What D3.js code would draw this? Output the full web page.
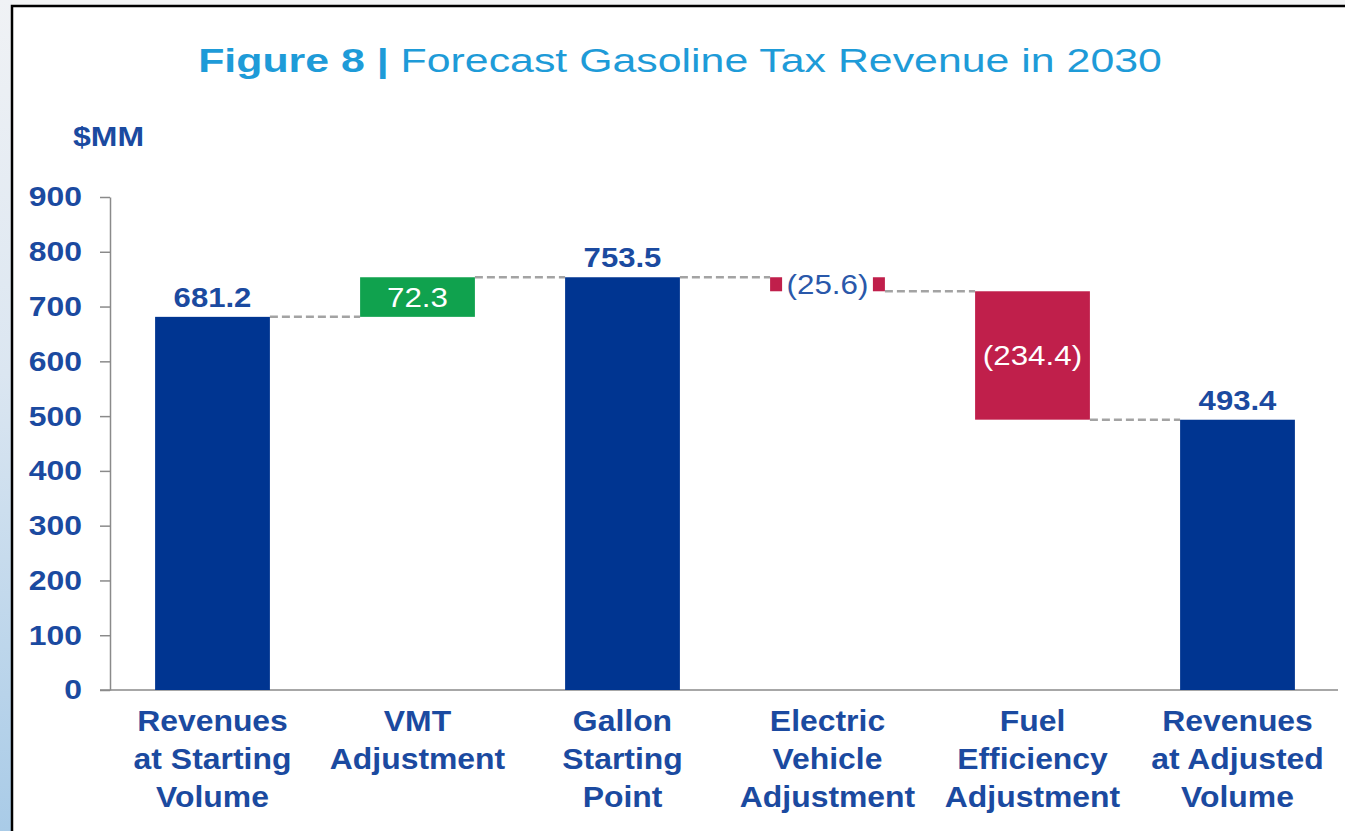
<!DOCTYPE html>
<html>
<head>
<meta charset="utf-8">
<script src="https://cdn.jsdelivr.net/npm/d3@7"></script>
<style>
  html, body { margin: 0; padding: 0; background: #f3f4f5; }
  svg { display: block; font-family: "Liberation Sans", Arial, sans-serif; }
</style>
</head>
<body>
<div id="chart"></div>
<script>
// Waterfall: forecast gasoline tax revenue in 2030

const categories = [
  ["Revenues", "at Starting", "Volume"],
  ["VMT", "Adjustment"],
  ["Gallon", "Starting", "Point"],
  ["Electric", "Vehicle", "Adjustment"],
  ["Fuel", "Efficiency", "Adjustment"],
  ["Revenues", "at Adjusted", "Volume"]
];
const values = [681.2, 72.3, 753.5, -25.6, -234.4, 493.4];
const kinds = ["total", "delta", "total", "delta", "delta", "total"];
const valueLabels = ["681.2", "72.3", "753.5", "(25.6)", "(234.4)", "493.4"];
const yTicks = [0, 100, 200, 300, 400, 500, 600, 700, 800, 900];

const width = 1345, height = 831;
const navy = "#003591", textNavy = "#1b4aa0";
const green = "#10a24e", red = "#c01f4b";

// the source picture is a bit wider than normal Arial, so widen text
function stretch(sel, k) {
  sel.each(function() {
    const w = this.getComputedTextLength();
    d3.select(this).attr("textLength", w * k).attr("lengthAdjust", "spacingAndGlyphs");
  });
}

// running totals
let running = 0;
const bars = values.map((v, i) => {
  let y0, y1;
  if (kinds[i] === "total") { y0 = 0; y1 = v; running = v; }
  else { y0 = running; y1 = running + v; running = y1; }
  return { i, v, y0, y1, end: running, kind: kinds[i], label: valueLabels[i] };
});

const svg = d3.select("#chart").append("svg")
  .attr("width", width).attr("height", height);

// page background: left blue strip + white panel with black border
const defs = svg.append("defs");
const grad = defs.append("linearGradient").attr("id", "strip")
  .attr("x1", 0).attr("y1", 0).attr("x2", 0).attr("y2", 1);
grad.append("stop").attr("offset", "0%").attr("stop-color", "#f0f2f5");
grad.append("stop").attr("offset", "45%").attr("stop-color", "#dbe6f1");
grad.append("stop").attr("offset", "100%").attr("stop-color", "#a9cbe7");

svg.append("rect").attr("x", 0).attr("y", 0).attr("width", width).attr("height", height).attr("fill", "#f3f4f5");
svg.append("rect").attr("x", 0).attr("y", 0).attr("width", 12).attr("height", height).attr("fill", "url(#strip)");
svg.append("rect").attr("x", 12).attr("y", 6).attr("width", width).attr("height", height)
  .attr("fill", "#ffffff").attr("stroke", "#000").attr("stroke-width", 2.5);

const x = d3.scaleBand()
  .domain(d3.range(categories.length))
  .range([110, 1340])
  .paddingInner(0.44)
  .paddingOuter(0.22);

const y = d3.scaleLinear().domain([0, 900]).range([690, 197]);

// title, widened by a horizontal scale so the glyphs stretch too
const titleG = svg.append("g");
const title = titleG.append("text")
  .attr("x", 0).attr("y", 0)
  .attr("text-anchor", "middle")
  .attr("font-size", 33)
  .attr("fill", "#1e9bd8");
title.append("tspan").attr("font-weight", "bold").text("Figure 8 | ");
title.append("tspan").text("Forecast Gasoline Tax Revenue in 2030");
const tw = title.node().getComputedTextLength();
titleG.attr("transform", `translate(680,72) scale(${964 / tw},1)`);

svg.append("text")
  .attr("x", 73).attr("y", 146)
  .attr("font-size", 27).attr("font-weight", "bold")
  .attr("fill", textNavy)
  .text("$MM")
  .attr("textLength", 71).attr("lengthAdjust", "spacingAndGlyphs");

// y axis
const yAxis = svg.append("g")
  .attr("transform", "translate(110,0)")
  .call(d3.axisLeft(y).tickValues(yTicks).tickSize(10).tickPadding(18).tickSizeOuter(0));
yAxis.select(".domain").attr("stroke", "#8a8a8a").attr("stroke-width", 1.5);
yAxis.selectAll(".tick line").attr("stroke", "#8a8a8a").attr("stroke-width", 1.5);
yAxis.selectAll(".tick text")
  .attr("font-size", 28).attr("font-weight", "bold")
  .attr("fill", textNavy)
  .attr("font-family", "Liberation Sans, Arial, sans-serif")
  .call(stretch, 1.14);

// x axis baseline
svg.append("line")
  .attr("x1", 100).attr("x2", 1338)
  .attr("y1", y(0)).attr("y2", y(0))
  .attr("stroke", "#8a8a8a").attr("stroke-width", 1.5);

// connectors
svg.append("g").selectAll("line")
  .data(bars.slice(0, -1))
  .join("line")
  .attr("x1", d => x(d.i) + x.bandwidth())
  .attr("x2", d => x(d.i + 1))
  .attr("y1", d => y(d.end))
  .attr("y2", d => y(d.end))
  .attr("stroke", "#a3a3a3")
  .attr("stroke-width", 2.5)
  .attr("stroke-dasharray", "8,4");

// bars
const color = d => d.kind === "total" ? navy : (d.v >= 0 ? green : red);
svg.append("g").selectAll("rect")
  .data(bars)
  .join("rect")
  .attr("x", d => x(d.i))
  .attr("width", x.bandwidth())
  .attr("y", d => y(Math.max(d.y0, d.y1)))
  .attr("height", d => Math.abs(y(d.y0) - y(d.y1)))
  .attr("fill", color);

// total labels above bars
svg.append("g").selectAll("text")
  .data(bars.filter(d => d.kind === "total"))
  .join("text")
  .attr("x", d => x(d.i) + x.bandwidth() / 2)
  .attr("y", d => y(d.y1) - 10)
  .attr("text-anchor", "middle")
  .attr("font-size", 28).attr("font-weight", "bold")
  .attr("fill", textNavy)
  .text(d => d.label)
  .call(stretch, 1.11);

// delta labels inside bars
const deltas = bars.filter(d => d.kind === "delta");
const small = d => Math.abs(y(d.y0) - y(d.y1)) < 30;
svg.append("g").selectAll("rect")
  .data(deltas.filter(small))
  .join("rect")
  .attr("x", d => x(d.i) + 12)
  .attr("width", x.bandwidth() - 24)
  .attr("y", d => y((d.y0 + d.y1) / 2) - 16)
  .attr("height", 32)
  .attr("fill", "#ffffff");
svg.append("g").selectAll("text")
  .data(deltas)
  .join("text")
  .attr("x", d => x(d.i) + x.bandwidth() / 2)
  .attr("y", d => y((d.y0 + d.y1) / 2))
  .attr("dy", "0.36em")
  .attr("text-anchor", "middle")
  .attr("font-size", 27)
  .attr("fill", d => small(d) ? "#2a58aa" : "#ffffff")
  .text(d => d.label)
  .call(stretch, 1.16);

// category labels
const cat = svg.append("g").selectAll("text")
  .data(categories)
  .join("text")
  .attr("x", (d, i) => x(i) + x.bandwidth() / 2)
  .attr("y", 731)
  .attr("text-anchor", "middle")
  .attr("font-size", 29).attr("font-weight", "bold")
  .attr("fill", textNavy);
cat.selectAll("tspan")
  .data(d => d)
  .join("tspan")
  .attr("x", function() { return this.parentNode.getAttribute("x"); })
  .attr("dy", (d, j) => j === 0 ? 0 : 38)
  .text(d => d)
  .call(stretch, 1.1);
</script>
</body>
</html>
